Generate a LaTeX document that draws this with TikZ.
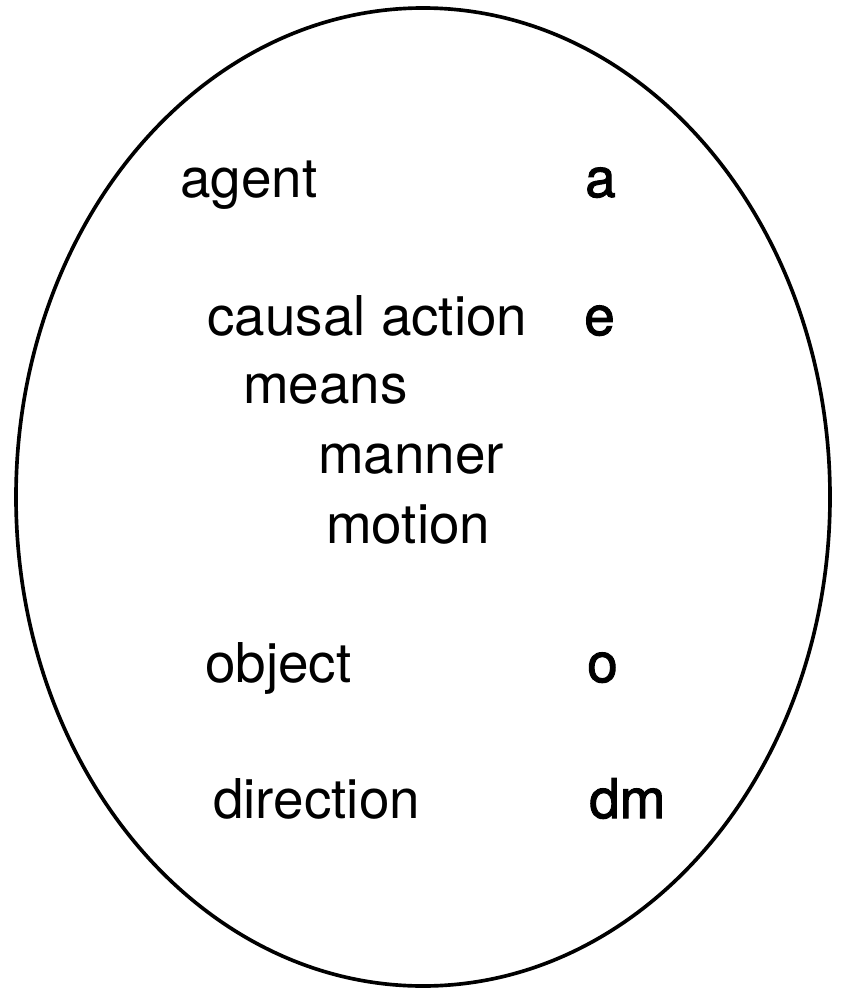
\documentclass[tikz,border=0pt]{standalone}
\usepackage{fontspec}
\setmainfont{TeX Gyre Heros}
\newfontfamily\varfont[FakeBold=1.8]{TeX Gyre Heros}
\usepackage{tikz}

\tikzset{
    role/.style={anchor=base west, inner sep=0pt, font=\fontsize{39}{41}\selectfont},
    var/.style={anchor=base west, inner sep=0pt, font=\varfont\fontsize{39}{41}\selectfont}
}

\begin{document}
\begin{tikzpicture}[x=0.025cm,y=-0.025cm]

    % Frame
    \useasboundingbox (0,0) rectangle (842,992);

    % Ellipse
    \draw[line width=2.6pt] (423,497) ellipse (407 and 489);

    % Roles
    \node[role] (agent) at (180,197) {agent};
    \node[role] (cause) at (207,335) {causal action};
    \node[role] (means) at (243,403) {means};
    \node[role] (manner) at (318,473) {manner};
    \node[role] (motion) at (326,543) {motion};
    \node[role] (object) at (205,682) {object};
    \node[role] (dir) at (213,818) {direction};

    % Variables
    \node[var] (a) at (585,197) {a};
    \node[var] (e) at (584,335) {e};
    \node[var] (o) at (587,682) {o};
    \node[var] (dm) at (589,818) {dm};

\end{tikzpicture}
\end{document}
